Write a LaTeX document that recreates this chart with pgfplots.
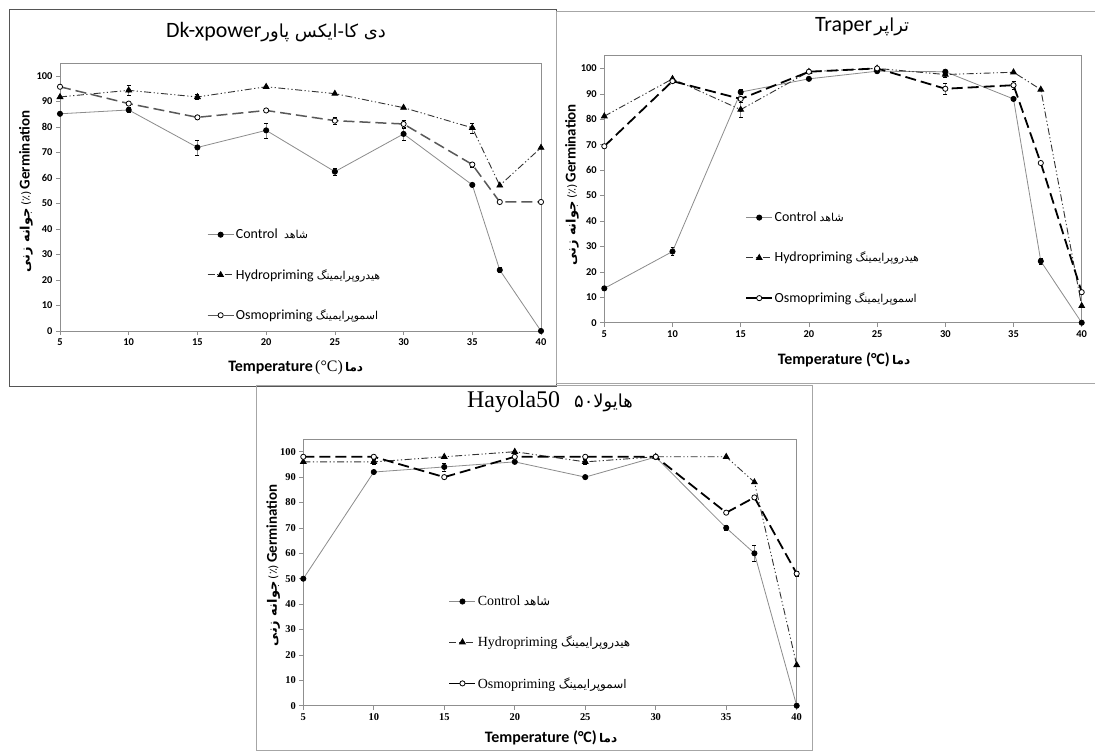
\documentclass[border=0pt]{standalone}
\usepackage{fontspec}
\setmainfont{Carlito}
\newfontfamily\serifmain{Liberation Serif}
\newfontfamily\arabicfont[Script=Arabic]{DejaVu Sans}
\usepackage{pgfplots}
\pgfplotsset{compat=1.18}
\TeXXeTstate=1

\definecolor{ctrlgray}{HTML}{8C8C8C}
\definecolor{framedark}{HTML}{555555}
\definecolor{framelight}{HTML}{A6A6A6}
\definecolor{axgray}{HTML}{8F8F8F}

\newcommand{\fs}[1]{\fontsize{#1}{#1}\selectfont}
\newcommand{\ar}[2][11]{{\arabicfont\fs{#1}\beginR #2\endR}}
\newcommand{\ylab}{{\arabicfont\bfseries\fs{13}\beginR جوانه زنی\endR} {\arabicfont\fs{11}(٪)} {\bfseries\fs{15}Germination}}

\pgfplotsset{
  germ/.style={
    scale only axis, xmin=5, xmax=40, ymin=0, ymax=105,
    xtick={5,10,...,40}, ytick={0,10,...,100},
    tick align=outside, tick pos=left,
    major tick length=4bp,
    axis line style={draw=axgray, line width=0.6bp},
    tick style={draw=axgray, line width=0.6bp},
    /pgf/number format/assume math mode=true,
    tick label style={font=\bfseries\fs{10.5}},
    clip=false,
    legend cell align=left,
    legend image code/.code={\draw[mark repeat=2,mark phase=2,##1] plot coordinates {(0bp,0bp) (13bp,0bp) (26bp,0bp)};},
    legend style={draw=none, fill=none, anchor=north west, row sep=26bp,
      font=\fs{14}, inner sep=0pt, nodes={inner sep=1.5bp}},
  },
  ctrl/.style={color=ctrlgray, line width=0.8bp, mark=*, mark size=2.6bp,
    mark options={draw=black, fill=black, solid}},
  hydro/.style={color=black!80, line width=0.9bp,
    dash pattern=on 7bp off 2.5bp on 1.2bp off 2.5bp on 1.2bp off 2.5bp,
    mark=triangle*, mark size=3.2bp, mark options={draw=black, fill=black, solid}},
  osmo/.style={color=black, line width=1.8bp, dash pattern=on 11bp off 5bp,
    mark=*, mark size=2.6bp, mark options={draw=black, fill=white, solid, line width=0.8bp}},
  ebar/.style={forget plot, only marks, mark=none,
    error bars/.cd, y dir=both, y explicit,
    error bar style={draw=axgray, solid, line width=0.6bp}},
}

\begin{document}
\begin{tikzpicture}
\useasboundingbox (0bp,0bp) rectangle (1095bp,-756bp);
\fill[white] (0bp,0bp) rectangle (1095bp,-756bp);

% frames of the three panels
\draw[framedark, line width=0.8bp] (9bp,-9.5bp) rectangle (556bp,-386bp);
\draw[framelight, line width=0.8bp] (1095bp,-11bp) -- (556bp,-11bp) -- (556bp,-383bp) -- (1095bp,-383bp);
\draw[framelight, line width=0.8bp] (256bp,-385bp) rectangle (812bp,-750bp);

% ---------- Dk-xpower ----------
\begin{axis}[germ, at={(60bp,-331bp)}, anchor=south west, width=481bp, height=267.7bp,
  title={{\fs{22}Dk-xpower}{\arabicfont\fs{18}\beginR دی کا-ایکس پاور\endR}},
  title style={at={(axis description cs:0.449,1.094)}, anchor=center},
  xlabel={{\bfseries\fs{16}Temperature} {\serifmain\fs{16}(°C)} {\arabicfont\bfseries\fs{12}دما}},
  xlabel style={at={(axis description cs:0.49,-0.138)}, anchor=center},
  ylabel={\ylab},
  ylabel style={at={(axis description cs:-0.0707,0.52)}, anchor=center},
  legend style={at={(axis description cs:0.305,0.387)}},
  osmo/.append style={color=black!65, line width=1.5bp},
]
\addplot[ebar] coordinates {(10,86.7) +- (0,1) (15,72.0) +- (0,3) (20,78.7) +- (0,3)
  (25,62.5) +- (0,1.5) (30,77.3) +- (0,2.5) (37,23.9) +- (0,1)
  (10,94.4) +- (0,2) (15,91.8) +- (0,1) (35,79.7) +- (0,2)
  (25,82.5) +- (0,1.5) (30,81.2) +- (0,1.5) (35,65.3) +- (0,1)};
\addplot[ctrl] coordinates {(5,85.2) (10,86.7) (15,72.0) (20,78.7) (25,62.5) (30,77.3) (35,57.3) (37,23.9) (40,0)};
\addplot[hydro] coordinates {(5,91.8) (10,94.4) (15,91.8) (20,95.8) (25,93.1) (30,87.6) (35,79.7) (37,57.1) (40,71.9)};
\addplot[osmo] coordinates {(5,95.8) (10,89.2) (15,83.8) (20,86.5) (25,82.5) (30,81.2) (35,65.3) (37,50.6) (40,50.6)};
\legend{Control\ \ \ar{شاهد}, Hydropriming \ar{هیدروپرایمینگ}, Osmopriming \ar{اسموپرایمینگ}}
\end{axis}

% ---------- Traper ----------
\begin{axis}[germ, at={(604.3bp,-322.7bp)}, anchor=south west, width=477.4bp, height=267bp,
  title={{\fs{22}Traper} \ar[18]{تراپر}},
  title style={at={(axis description cs:0.54,1.085)}, anchor=center},
  xlabel={{\bfseries\fs{16}Temperature (°C)} {\arabicfont\bfseries\fs{12}دما}},
  xlabel style={at={(axis description cs:0.502,-0.14)}, anchor=center},
  ylabel={\ylab},
  ylabel style={at={(axis description cs:-0.068,0.516)}, anchor=center},
  legend style={at={(axis description cs:0.295,0.421)}},
]
\addplot[ebar] coordinates {(10,28.0) +- (0,1.5) (15,90.7) +- (0,1) (37,24.2) +- (0,1)
  (15,83.8) +- (0,3) (30,97.6) +- (0,1)
  (30,92.0) +- (0,2) (35,93.4) +- (0,1.5)};
\addplot[ctrl] coordinates {(5,13.5) (10,28.0) (15,90.7) (20,95.9) (25,98.9) (30,98.7) (35,88.0) (37,24.2) (40,0)};
\addplot[hydro] coordinates {(5,81.2) (10,95.9) (15,83.8) (20,98.7) (25,100) (30,97.6) (35,98.5) (37,91.7) (40,6.6)};
\addplot[osmo] coordinates {(5,69.4) (10,95.0) (15,88.0) (20,98.7) (25,100) (30,92.0) (35,93.4) (37,62.8) (40,12.0)};
\legend{Control \ar{شاهد}, Hydropriming \ar{هیدروپرایمینگ}, Osmopriming \ar{اسموپرایمینگ}}
\end{axis}

% ---------- Hayola50 ----------
\begin{axis}[germ, at={(303.3bp,-705.7bp)}, anchor=south west, width=493.4bp, height=266.7bp,
  tick label style={font=\serifmain\bfseries\fs{10.5}},
  legend style={at={(axis description cs:0.294,0.418)}, font=\serifmain\fs{14}},
  title={{\serifmain\fs{24}Hayola50}\hspace{14bp}{\arabicfont\fs{18}۵۰}\ar[18]{هایولا}},
  title style={at={(axis description cs:0.5,1.116)}, anchor=center},
  xlabel={{\bfseries\fs{16}Temperature (°C)} {\arabicfont\bfseries\fs{12}دما}},
  xlabel style={at={(axis description cs:0.502,-0.121)}, anchor=center},
  ylabel={\ylab},
  ylabel style={at={(axis description cs:-0.061,0.527)}, anchor=center},
]
\addplot[ebar] coordinates {(15,94) +- (0,1.5) (37,60) +- (0,3) (35,70) +- (0,1)
  (10,96) +- (0,1) (25,96) +- (0,1) (40,52) +- (0,1)};
\addplot[ctrl] coordinates {(5,50) (10,92) (15,94) (20,96) (25,90) (30,97.9) (35,70) (37,60) (40,0)};
\addplot[hydro] coordinates {(5,96) (10,96) (15,98) (20,100) (25,96) (30,98) (35,98) (37,88) (40,16)};
\addplot[osmo] coordinates {(5,98) (10,98) (15,90) (20,98) (25,98) (30,98) (35,76) (37,82) (40,52)};
\legend{Control \ar[12]{شاهد}, Hydropriming \ar[12]{هیدروپرایمینگ}, Osmopriming \ar[12]{اسموپرایمینگ}}
\end{axis}
\end{tikzpicture}
\end{document}
